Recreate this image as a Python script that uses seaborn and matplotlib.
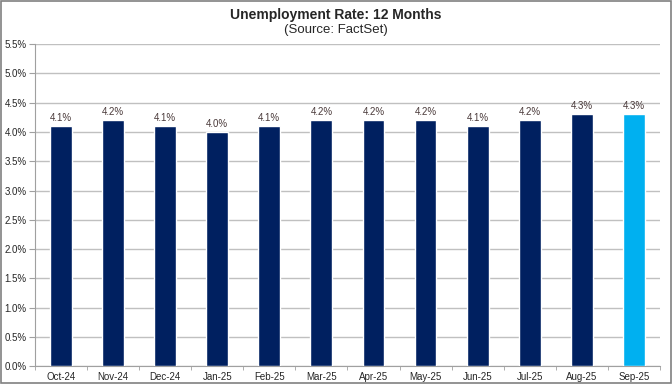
import matplotlib
matplotlib.use("Agg")
import matplotlib.pyplot as plt
import seaborn as sns
import pandas as pd
import numpy as np

months = ["Oct-24", "Nov-24", "Dec-24", "Jan-25", "Feb-25", "Mar-25",
          "Apr-25", "May-25", "Jun-25", "Jul-25", "Aug-25", "Sep-25"]
rates = [4.1, 4.2, 4.1, 4.0, 4.1, 4.2, 4.2, 4.2, 4.1, 4.2, 4.3, 4.3]

df = pd.DataFrame({"month": months, "rate": rates})
palette = ["#002060"] * (len(months) - 1) + ["#00B0F0"]

sns.set_style("white")
plt.rcParams["font.family"] = ["Liberation Sans", "DejaVu Sans"]

fig = plt.figure(figsize=(6.72, 3.84), dpi=100)
ax = fig.add_axes([0.052, 0.046, 0.93, 0.839])

sns.barplot(data=df, x="month", y="rate", hue="month", palette=palette,
            legend=False, width=0.42, saturation=1, ax=ax, zorder=3)

ax.set_ylim(0, 5.5)
ax.set_yticks(np.arange(0, 5.51, 0.5))
ax.set_yticklabels([f"{v:.1f}%" for v in np.arange(0, 5.51, 0.5)], fontsize=7)
ax.yaxis.grid(True, color="#c0c0c0", linewidth=1, zorder=0)
ax.set_xlim(-0.5, len(months) - 0.5)
ax.tick_params(axis="x", labelsize=7, length=0, pad=4)
ax.tick_params(axis="y", length=4, color="#a0a0a0", pad=2, left=True)
ax.set_xticks(np.arange(-0.5, len(months), 1), minor=True)
ax.tick_params(axis="x", which="minor", length=3, color="#a0a0a0", bottom=True)
ax.set_xlabel("")
ax.set_ylabel("")
for s in ["top", "right"]:
    ax.spines[s].set_visible(False)
for s in ["left", "bottom"]:
    ax.spines[s].set_color("#a0a0a0")

for i, v in enumerate(rates):
    ax.text(i, v + 0.06, f"{v:.1f}%", ha="center", va="bottom",
            fontsize=7, color="#4a3a3a")

fig.text(0.5, 0.962, "Unemployment Rate: 12 Months", ha="center", va="center",
         fontsize=10, fontweight="bold")
fig.text(0.5, 0.923, "(Source: FactSet)", ha="center", va="center", fontsize=9.5)

fig.patches.append(plt.Rectangle((0.001, 0.002), 0.997, 0.995, transform=fig.transFigure,
                                 fill=False, edgecolor="#808080", linewidth=1.2))

fig.savefig("out.png", dpi=100)
